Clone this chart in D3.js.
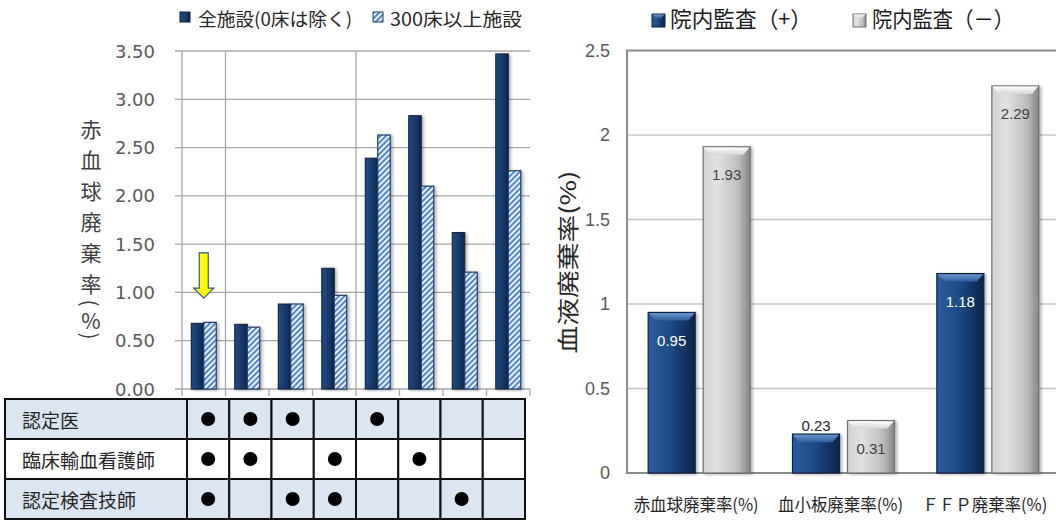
<!DOCTYPE html>
<html>
<head>
<meta charset="utf-8">
<script src="https://cdn.jsdelivr.net/npm/d3@7"></script>
<style>
  body { margin: 0; background: #fff; }
  svg { display: block; }
</style>
</head>
<body>
<div id="chart"></div>
<script>
// ---- data (left chart) ----
const groups = ["1", "2", "3", "4", "5", "6", "7", "8"];
const allFacilities = [0.68, 0.67, 0.88, 1.25, 2.39, 2.83, 1.62, 3.47];
const largeFacilities = [0.69, 0.64, 0.88, 0.97, 2.63, 2.10, 1.21, 2.26];
const leftTicks = [0, 0.5, 1, 1.5, 2, 2.5, 3, 3.5];
const leftSeries = ["全施設(0床は除く)", "300床以上施設"];
const leftTitle = "赤血球廃棄率(%)";
const staffRows = ["認定医", "臨床輸血看護師", "認定検査技師"];
const staffMarks = [
  [1, 1, 1, 0, 1, 0, 0, 0],
  [1, 1, 0, 1, 0, 1, 0, 0],
  [1, 0, 1, 1, 0, 0, 1, 0]
];
const gridGroups = [0, 1, 4];          // vertical gridlines sit at these group edges
const arrowGroup = 0, arrowFrom = 1.41, arrowTo = 0.94;

// ---- data (right chart) ----
const rightCategories = ["赤血球廃棄率(%)", "血小板廃棄率(%)", "ＦＦＰ廃棄率(%)"];
const auditPlus = [0.95, 0.23, 1.18];
const auditMinus = [1.93, 0.31, 2.29];
const rightTicks = [0, 0.5, 1, 1.5, 2, 2.5];
const rightSeries = ["院内監査（+）", "院内監査（－）"];
const rightTitle = "血液廃棄率(%)";

const width = 1056, height = 524;
const cjk = "'Noto Sans CJK JP', 'Noto Sans', sans-serif";

const svg = d3.select("#chart")
  .append("svg")
  .attr("width", width)
  .attr("height", height);

const defs = svg.append("defs");

// gradients / patterns
function hGrad(id, stops) {
  const g = defs.append("linearGradient").attr("id", id)
    .attr("x1", 0).attr("x2", 1).attr("y1", 0).attr("y2", 0);
  stops.forEach(s => g.append("stop").attr("offset", s[0]).attr("stop-color", s[1]));
}
function vGrad(id, stops) {
  const g = defs.append("linearGradient").attr("id", id)
    .attr("x1", 0).attr("x2", 0).attr("y1", 0).attr("y2", 1);
  stops.forEach(s => g.append("stop").attr("offset", s[0]).attr("stop-color", s[1]));
}
hGrad("navy", [["0%", "#204c84"], ["60%", "#17396a"], ["100%", "#0d2446"]]);
hGrad("blueBody", [["0%", "#2b5c9c"], ["45%", "#1e4b88"], ["100%", "#0b2446"]]);
vGrad("blueTop", [["0%", "#6c95cc"], ["100%", "#2f5f9f"]]);
hGrad("grayBody", [["0%", "#d2d2d2"], ["30%", "#e2e2e2"], ["75%", "#bdbdbd"], ["100%", "#858585"]]);
vGrad("grayTop", [["0%", "#ffffff"], ["100%", "#d6d6d6"]]);

const hatch = defs.append("pattern").attr("id", "hatch")
  .attr("patternUnits", "userSpaceOnUse")
  .attr("width", 4).attr("height", 4)
  .attr("patternTransform", "rotate(45)");
hatch.append("rect").attr("width", 4).attr("height", 4).attr("fill", "#ffffff");
hatch.append("rect").attr("width", 2.2).attr("height", 4).attr("fill", "#4f86cf");

const shadow = defs.append("filter").attr("id", "shadow")
  .attr("x", "-20%").attr("y", "-5%").attr("width", "150%").attr("height", "115%");
shadow.append("feDropShadow").attr("dx", 2).attr("dy", 1).attr("stdDeviation", 1.5)
  .attr("flood-color", "#000").attr("flood-opacity", 0.3);

// ======================= LEFT CHART =======================
const x0 = d3.scaleBand().domain(groups).range([182, 530]);
const x1 = d3.scaleBand().domain([0, 1]).range([0, x0.bandwidth()]).paddingOuter(0.74);
const y = d3.scaleLinear().domain([0, 3.5]).range([389, 51]);
const edge = i => (i < groups.length ? x0(groups[i]) : x0.range()[1]);

// horizontal gridlines
svg.append("g").selectAll("line")
  .data(leftTicks)
  .join("line")
  .attr("x1", 175).attr("x2", 530)
  .attr("y1", d => y(d)).attr("y2", d => y(d))
  .attr("stroke", "#a6a6a6").attr("stroke-width", 1.3);

// vertical gridlines
svg.append("g").selectAll("line")
  .data(gridGroups)
  .join("line")
  .attr("x1", d => edge(d)).attr("x2", d => edge(d))
  .attr("y1", y(3.5)).attr("y2", y(0))
  .attr("stroke", "#a6a6a6").attr("stroke-width", 1.3);

// bottom tick marks
svg.append("g").selectAll("line")
  .data(d3.range(groups.length + 1))
  .join("line")
  .attr("x1", d => edge(d)).attr("x2", d => edge(d))
  .attr("y1", y(0)).attr("y2", y(0) + 7)
  .attr("stroke", "#a6a6a6").attr("stroke-width", 1.3);

// y tick labels
svg.append("g").selectAll("text")
  .data(leftTicks)
  .join("text")
  .attr("x", 155).attr("y", d => y(d))
  .attr("text-anchor", "end")
  .attr("dominant-baseline", "central")
  .attr("font-family", "'DejaVu Sans', sans-serif")
  .attr("font-size", 18)
  .attr("fill", "#595959")
  .text(d3.format(".2f"));

// bars
const leftBars = svg.append("g").attr("filter", "url(#shadow)");
groups.forEach((g, i) => {
  leftBars.append("rect")
    .attr("x", x0(g) + x1(0)).attr("y", y(allFacilities[i]))
    .attr("width", x1.bandwidth()).attr("height", y(0) - y(allFacilities[i]))
    .attr("fill", "url(#navy)").attr("stroke", "#0b1d36").attr("stroke-width", 1);
  leftBars.append("rect")
    .attr("x", x0(g) + x1(1)).attr("y", y(largeFacilities[i]))
    .attr("width", x1.bandwidth()).attr("height", y(0) - y(largeFacilities[i]))
    .attr("fill", "url(#hatch)").attr("stroke", "#1f3d6b").attr("stroke-width", 1.2);
});

// yellow arrow
{
  const cx = x0(groups[arrowGroup]) + x0.bandwidth() / 2;
  const top = y(arrowFrom), tip = y(arrowTo), base = tip - 10;
  svg.append("path")
    .attr("d", `M${cx - 4.5},${top} L${cx + 4.5},${top} L${cx + 4.5},${base} L${cx + 10},${base}
      L${cx},${tip} L${cx - 10},${base} L${cx - 4.5},${base} Z`)
    .attr("fill", "#ffff00").attr("stroke", "#2f5597").attr("stroke-width", 1.2);
}

// left y title, stacked vertically
{
  const w = c => (c === "(" || c === ")") ? 9 : (c === "%" ? 24 : 31);
  let pos = 128;
  const chars = leftTitle.split("");
  chars.forEach((c, i) => {
    if (i > 0) pos += (w(chars[i - 1]) + w(c)) / 2;
    const t = svg.append("text")
      .attr("x", 91).attr("y", pos)
      .attr("text-anchor", "middle")
      .attr("dominant-baseline", "central")
      .attr("font-family", cjk)
      .attr("font-size", 21)
      .attr("fill", "#404040")
      .text(c);
    if (c === "(" || c === ")") t.attr("transform", `rotate(90,91,${pos})`);
  });
}

// left legend
const legL = svg.append("g");
legL.append("rect").attr("x", 180).attr("y", 12).attr("width", 10).attr("height", 10)
  .attr("fill", "url(#navy)").attr("stroke", "#0b1d36");
legL.append("text").attr("x", 198).attr("y", 18)
  .attr("dominant-baseline", "central")
  .attr("font-family", cjk).attr("font-size", 18).attr("fill", "#262626")
  .attr("textLength", 154).attr("lengthAdjust", "spacingAndGlyphs")
  .text(leftSeries[0]);
legL.append("rect").attr("x", 373).attr("y", 12).attr("width", 10).attr("height", 10)
  .attr("fill", "url(#hatch)").attr("stroke", "#1f3d6b");
legL.append("text").attr("x", 390).attr("y", 18)
  .attr("dominant-baseline", "central")
  .attr("font-family", cjk).attr("font-size", 18).attr("fill", "#262626")
  .attr("textLength", 132).attr("lengthAdjust", "spacingAndGlyphs")
  .text(leftSeries[1]);

// staff table
const rowY = d3.scaleBand().domain(d3.range(staffRows.length)).range([399, 519]);
const colX = d3.scaleBand().domain(groups).range([187, 525]);
const table = svg.append("g");
staffRows.forEach((name, r) => {
  const fill = r % 2 === 0 ? "#dce6f2" : "#ffffff";
  table.append("rect")
    .attr("x", 5).attr("y", rowY(r))
    .attr("width", 187 - 5).attr("height", rowY.bandwidth())
    .attr("fill", fill).attr("stroke", "#111").attr("stroke-width", 2);
  table.append("text")
    .attr("x", 22).attr("y", rowY(r) + rowY.bandwidth() / 2)
    .attr("dominant-baseline", "central")
    .attr("font-family", cjk).attr("font-size", 19).attr("fill", "#262626")
    .text(name);
  groups.forEach((g, c) => {
    table.append("rect")
      .attr("x", colX(g)).attr("y", rowY(r))
      .attr("width", colX.bandwidth()).attr("height", rowY.bandwidth())
      .attr("fill", fill).attr("stroke", "#111").attr("stroke-width", 2);
    if (staffMarks[r][c]) {
      table.append("circle")
        .attr("cx", colX(g) + colX.bandwidth() / 2)
        .attr("cy", rowY(r) + rowY.bandwidth() / 2)
        .attr("r", 7).attr("fill", "#000");
    }
  });
});

// ======================= RIGHT CHART =======================
const xr0 = d3.scaleBand().domain(rightCategories).range([627, 1060]);
const xr1 = d3.scaleBand().domain([0, 1]).range([0, xr0.bandwidth()])
  .paddingInner(0.1455).paddingOuter(0.385);
const yr = d3.scaleLinear().domain([0, 2.5]).range([473, 50.5]);

// gridlines
svg.append("g").selectAll("line")
  .data(rightTicks.slice(1, -1))
  .join("line")
  .attr("x1", 627).attr("x2", 1060)
  .attr("y1", d => yr(d)).attr("y2", d => yr(d))
  .attr("stroke", "#c4c4c4").attr("stroke-width", 1.5);

// frame
svg.append("path")
  .attr("d", `M1060,${yr(2.5)} L627,${yr(2.5)} L627,${yr(0)} L1060,${yr(0)}`)
  .attr("fill", "none").attr("stroke", "#8c8c8c").attr("stroke-width", 2);

// tick labels
svg.append("g").selectAll("text")
  .data(rightTicks)
  .join("text")
  .attr("x", 610).attr("y", d => yr(d))
  .attr("text-anchor", "end")
  .attr("dominant-baseline", "central")
  .attr("font-family", "'Liberation Sans', sans-serif")
  .attr("font-size", 18)
  .attr("fill", "#595959")
  .text(d => d);

// bevelled bars
function bevelBar(g, x, top, w, body, cap, stroke) {
  const h = yr(0) - top;
  const b = Math.min(8, h / 2);
  g.append("rect").attr("x", x).attr("y", top).attr("width", w).attr("height", h)
    .attr("fill", body).attr("stroke", stroke).attr("stroke-width", 1.2);
  g.append("path")
    .attr("d", `M${x + 0.6},${top + 0.6} L${x + w - 0.6},${top + 0.6} L${x + w - 7},${top + b} L${x + 7},${top + b} Z`)
    .attr("fill", cap);
}

const rightBars = svg.append("g").attr("filter", "url(#shadow)");
const rightLabels = svg.append("g");
rightCategories.forEach((cat, i) => {
  const pairs = [
    { v: auditPlus[i], k: 0, body: "url(#blueBody)", cap: "url(#blueTop)", stroke: "#0d223f", ink: "#ffffff" },
    { v: auditMinus[i], k: 1, body: "url(#grayBody)", cap: "url(#grayTop)", stroke: "#6f6f6f", ink: "#404040" }
  ];
  pairs.forEach(p => {
    const x = xr0(cat) + xr1(p.k);
    const top = yr(p.v);
    bevelBar(rightBars, x, top, xr1.bandwidth(), p.body, p.cap, p.stroke);
    const inside = yr(0) - top > 45;
    rightLabels.append("text")
      .attr("x", x + xr1.bandwidth() / 2)
      .attr("y", inside ? top + 28 : top - 9)
      .attr("text-anchor", "middle")
      .attr("dominant-baseline", "central")
      .attr("font-family", "'Liberation Sans', sans-serif")
      .attr("font-size", 15)
      .attr("fill", inside ? p.ink : "#262626")
      .text(p.v.toFixed(2));
  });
  svg.append("text")
    .attr("x", xr0(cat) + xr0.bandwidth() / 2 - 3).attr("y", 503)
    .attr("text-anchor", "middle")
    .attr("dominant-baseline", "central")
    .attr("font-family", cjk).attr("font-size", 17).attr("fill", "#262626")
    .attr("textLength", 125).attr("lengthAdjust", "spacingAndGlyphs")
    .text(cat);
});

// right y title
svg.append("text")
  .attr("transform", "translate(566,262) rotate(-90)")
  .attr("text-anchor", "middle")
  .attr("dominant-baseline", "central")
  .attr("font-family", cjk).attr("font-size", 22).attr("fill", "#262626")
  .attr("textLength", 183).attr("lengthAdjust", "spacingAndGlyphs")
  .text(rightTitle);

// right legend
const legR = svg.append("g");
[[652, 670, "url(#blueBody)", "url(#blueTop)", "#0d223f"],
 [853, 872, "url(#grayBody)", "url(#grayTop)", "#6f6f6f"]].forEach((d, i) => {
  legR.append("rect").attr("x", d[0]).attr("y", 14).attr("width", 13).attr("height", 13)
    .attr("fill", d[2]).attr("stroke", d[4]);
  legR.append("path")
    .attr("d", `M${d[0] + 0.5},14.5 L${d[0] + 12.5},14.5 L${d[0] + 9},18 L${d[0] + 4},18 Z`)
    .attr("fill", d[3]);
  legR.append("text").attr("x", d[1]).attr("y", 17)
    .attr("dominant-baseline", "central")
    .attr("font-family", cjk).attr("font-size", 22).attr("fill", "#1a1a1a")
    .attr("textLength", 142).attr("lengthAdjust", "spacingAndGlyphs")
    .text(rightSeries[i]);
});
</script>
</body>
</html>
